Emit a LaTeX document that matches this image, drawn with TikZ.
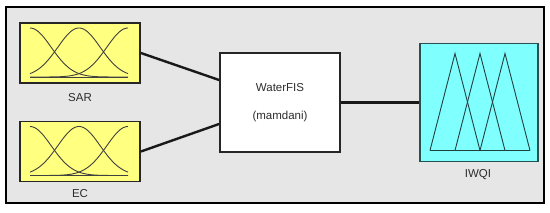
\documentclass[tikz,border=0pt]{standalone}
\usepackage{fontspec}
\setmainfont{Liberation Sans}
\definecolor{panel}{RGB}{230,230,230}
\definecolor{mfyellow}{RGB}{255,255,128}
\definecolor{mfcyan}{RGB}{128,255,255}
\definecolor{tealline}{RGB}{40,80,80}
\definecolor{labelgray}{RGB}{45,45,45}
\usetikzlibrary{positioning}

\begin{document}
\begin{tikzpicture}[
    x=1pt, y=-1pt,
    frame/.style={draw=black, line width=2pt, fill=panel},
    mfbox/.style={draw=black!85, line width=1.8pt, inner sep=0pt},
    invar/.style={mfbox, fill=mfyellow, minimum width=120pt, minimum height=60pt},
    fisbox/.style={mfbox, fill=white, minimum width=120pt, minimum height=99pt, align=center, font=\fontsize{11.5}{28}\selectfont, text=labelgray},
    outvar/.style={mfbox, draw=tealline, fill=mfcyan, minimum width=118pt, minimum height=118pt},
    lbl/.style={font=\fontsize{11.5}{13}\selectfont, text=labelgray},
    link/.style={line width=2.4pt, black!90},
    curve/.style={line width=0.9pt, black!75}
]
\useasboundingbox[fill=white] (0,0) rectangle (550,212);
% Panel
\draw[frame] (6,7) rectangle (544,203);
% Inputs
\node[invar] (sar) at (80,53) {};
\node[invar] (ec) at (80,151.5) {};
\node[lbl] (sarlbl) at (80,98) {SAR};
\node[lbl] (eclbl) at (80,194) {EC};
% Gaussian membership functions
\foreach \inp in {sar,ec}{
  \begin{scope}[shift={(\inp.center)}]
    \draw[curve] (-50,24) -- (48,24);
    \foreach \c in {-50,-1,48}
      \draw[curve] plot[domain=-50:48, samples=70, smooth] ({\x}, {24-49*exp(-((\x-\c)^2)/900)});
  \end{scope}
}
% Inference system
\node[fisbox] (fis) at (280,102.5) {WaterFIS\\(mamdani)};
% Output
\node[outvar] (iwqi) at (479,102.5) {};
\node[lbl] (iwqilbl) at (478,175) {IWQI};
% Triangular membership functions
\begin{scope}[shift={(iwqi.center)}]
  \draw[curve, tealline!80!black] (-49,48) -- (51,48);
  \foreach \p in {-24,1,26}
    \draw[curve, tealline!80!black] (\p-25,48) -- (\p,-49) -- (\p+25,48);
\end{scope}

\draw[link] (sar.east) -- ([yshift=22.5pt]fis.west);
\draw[link] (ec.east) -- ([yshift=-21.5pt]fis.west);
\draw[link] (fis.east) -- (iwqi.west);
\end{tikzpicture}
\end{document}
